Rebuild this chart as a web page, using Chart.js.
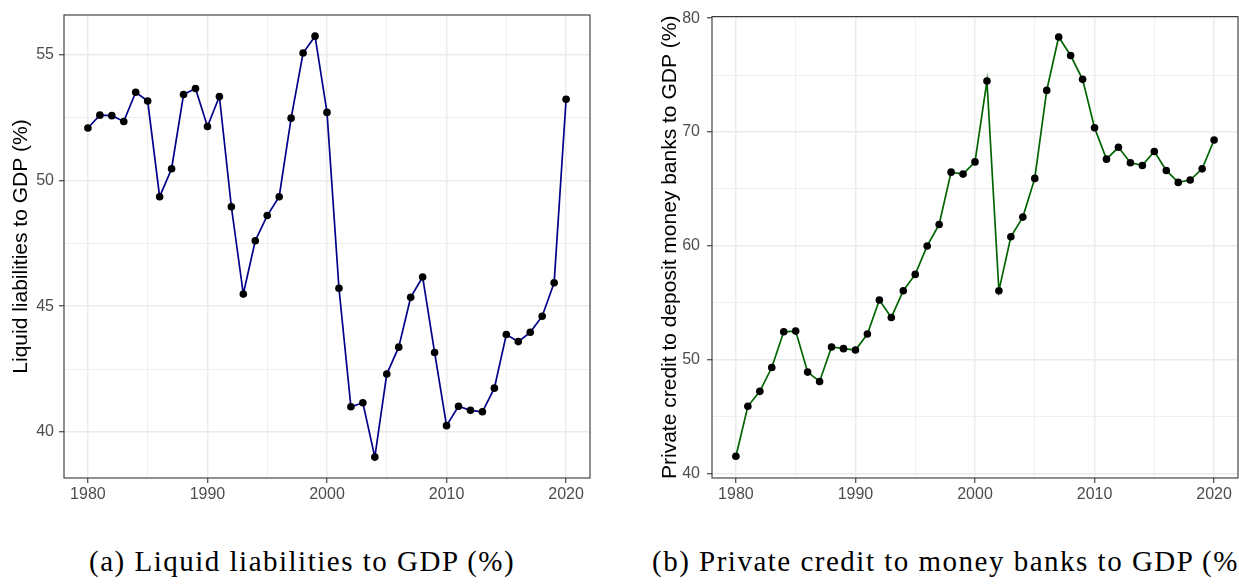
<!DOCTYPE html>
<html>
<head>
<meta charset="utf-8">
<script src="https://cdn.jsdelivr.net/npm/chart.js@4/dist/chart.umd.min.js"></script>
<style>
    html, body { margin: 0; padding: 0; background: #fff; }
    body { width: 1239px; height: 585px; overflow: hidden; position: relative; }
    .panel { position: absolute; top: 0; }
    .caption {
        position: absolute;
        top: 545px;
        font-family: "Liberation Serif", "DejaVu Serif", serif;
        font-size: 29px;
        letter-spacing: 1.5px;
        color: #000;
        white-space: nowrap;
    }
</style>
</head>
<body>
<div class="panel" style="left:0px;width:600px;height:505px;"><canvas id="liquidChart" width="600" height="505"></canvas></div>
<div class="panel" style="left:640px;width:602px;height:505px;"><canvas id="creditChart" width="602" height="505"></canvas></div>
<div class="caption" style="left:89px;">(a) Liquid liabilities to GDP (%)</div>
<div class="caption" style="left:652px;">(b) Private credit to money banks to GDP (%)</div>

<script>
"use strict";

// years 1980 - 2020
const years = [1980, 1981, 1982, 1983, 1984, 1985, 1986, 1987, 1988, 1989,
    1990, 1991, 1992, 1993, 1994, 1995, 1996, 1997, 1998, 1999,
    2000, 2001, 2002, 2003, 2004, 2005, 2006, 2007, 2008, 2009,
    2010, 2011, 2012, 2013, 2014, 2015, 2016, 2017, 2018, 2019, 2020];

// liquid liabilities to GDP (%)
const liquidLiabilities = [52.08, 52.59, 52.57, 52.34, 53.50, 53.15, 49.35, 50.46, 53.41, 53.65,
    52.14, 53.33, 48.95, 45.48, 47.60, 48.60, 49.35, 52.47, 55.06, 55.73,
    52.70, 45.71, 41.00, 41.16, 39.00, 42.30, 43.37, 45.35, 46.16, 43.16,
    40.25, 41.02, 40.86, 40.80, 41.74, 43.87, 43.59, 43.96, 44.60, 45.93, 53.22];

// private credit to deposit money banks to GDP (%)
const privateCredit = [41.53, 45.92, 47.23, 49.32, 52.46, 52.52, 48.92, 48.10, 51.13, 50.98,
    50.86, 52.26, 55.25, 53.72, 56.07, 57.50, 60.00, 61.88, 66.48, 66.31,
    67.38, 74.49, 56.07, 60.81, 62.53, 65.93, 73.66, 78.35, 76.72, 74.63,
    70.38, 67.62, 68.66, 67.30, 67.07, 68.29, 66.63, 65.58, 65.79, 66.77, 69.30];

// ticks (major get labels, minor only grid lines)
const xMajorTicks = [1980, 1990, 2000, 2010, 2020];
const xMinorTicks = [1985, 1995, 2005, 2015];
const liquidMajorTicks = [40, 45, 50, 55];
const liquidMinorTicks = [42.5, 47.5, 52.5];
const creditMajorTicks = [40, 50, 60, 70, 80];
const creditMinorTicks = [45, 55, 65, 75];

const TICK_FONT = { family: "'Liberation Sans', Arial, sans-serif", size: 16 };
const TITLE_FONT = { family: "'Liberation Sans', Arial, sans-serif", size: 21 };

// draws the ggplot-like box around the panel
const panelBorder = {
    id: 'panelBorder',
    afterDraw(chart) {
        const a = chart.chartArea;
        const c = chart.ctx;
        c.save();
        c.strokeStyle = '#333333';
        c.lineWidth = 1.1;
        c.strokeRect(a.left, a.top, a.right - a.left, a.bottom - a.top);
        c.restore();
    }
};

function gridFor(major) {
    return {
        color: '#ebebeb',
        lineWidth: ctx => major.includes(ctx.tick && ctx.tick.value) ? 1.5 : 0.8,
        tickColor: ctx => major.includes(ctx.tick && ctx.tick.value) ? '#333333' : 'rgba(0,0,0,0)',
        tickWidth: 1.1,
        tickLength: 5,
        drawTicks: true
    };
}

function makeChart(canvasId, values, lineColor, yMin, yMax, yMajor, yMinor, yTitle, yWidth, titlePad, tickPad, rightPad) {
    const points = years.map((yr, i) => ({ x: yr, y: values[i] }));
    return new Chart(document.getElementById(canvasId), {
        type: 'line',
        data: {
            datasets: [{
                data: points,
                borderColor: lineColor,
                borderWidth: 1.7,
                tension: 0,
                pointRadius: 3.8,
                pointBorderWidth: 0,
                pointBackgroundColor: '#000000',
                pointBorderColor: '#000000'
            }]
        },
        options: {
            responsive: false,
            animation: false,
            devicePixelRatio: 1,
            layout: { padding: { top: 15, right: rightPad, left: 0, bottom: 0 } },
            plugins: {
                legend: { display: false },
                tooltip: { enabled: false }
            },
            scales: {
                x: {
                    type: 'linear',
                    min: 1978,
                    max: 2022,
                    afterBuildTicks: s => { s.ticks = xMajorTicks.concat(xMinorTicks).sort().map(v => ({ value: v })); },
                    afterFit: s => { s.height = 27; },
                    grid: gridFor(xMajorTicks),
                    border: { display: false },
                    ticks: {
                        autoSkip: false,
                        maxRotation: 0,
                        padding: 2,
                        color: '#4d4d4d',
                        font: TICK_FONT,
                        callback: v => xMajorTicks.includes(v) ? String(v) : ''
                    }
                },
                y: {
                    type: 'linear',
                    min: yMin,
                    max: yMax,
                    afterBuildTicks: s => { s.ticks = yMajor.concat(yMinor).sort((a, b) => a - b).map(v => ({ value: v })); },
                    afterFit: s => { s.width = yWidth; },
                    grid: gridFor(yMajor),
                    border: { display: false },
                    title: {
                        display: true,
                        text: yTitle,
                        color: '#000000',
                        font: TITLE_FONT,
                        padding: { top: titlePad, bottom: 0 }
                    },
                    ticks: {
                        autoSkip: false,
                        padding: tickPad,
                        color: '#4d4d4d',
                        font: TICK_FONT,
                        callback: v => yMajor.includes(v) ? String(v) : ''
                    }
                }
            }
        },
        plugins: [panelBorder]
    });
}

makeChart('liquidChart', liquidLiabilities, '#00008b', 38.17, 56.57,
    liquidMajorTicks, liquidMinorTicks, 'Liquid liabilities to GDP (%)', 64, 9, 5, 10);
makeChart('creditChart', privateCredit, '#006400', 39.62, 80.14,
    creditMajorTicks, creditMinorTicks, 'Private credit to deposit money banks to GDP (%)', 72, 18, 7, 2);
</script>
</body>
</html>
